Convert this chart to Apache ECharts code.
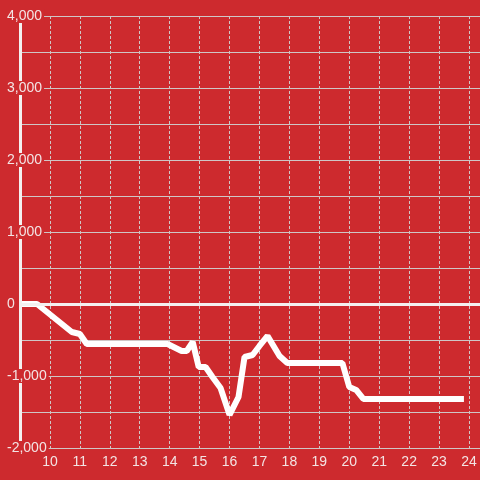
<!DOCTYPE html>
<html>
<head>
<meta charset="utf-8">
<script src="https://cdn.jsdelivr.net/npm/echarts@6/dist/echarts.min.js"></script>
<style>
  html, body { margin: 0; padding: 0; background: #CD2A2E; }
  #chart { width: 480px; height: 480px; }
</style>
</head>
<body>
<div id="chart"></div>
<script>
// hour of day vs running total
const times = [9.0, 9.57, 10.73, 11.0, 11.23, 13.93, 14.4, 14.57, 14.77, 14.97, 15.2, 15.43, 15.7, 16.0, 16.3, 16.5, 16.77, 17.0, 17.27, 17.67, 17.93, 19.77, 20.0, 20.23, 20.47, 23.83];
const values = [0, 0, -389, -417, -556, -556, -653, -653, -528, -875, -875, -1014, -1167, -1540, -1292, -736, -708, -583, -444, -722, -819, -819, -1153, -1194, -1319, -1319];
const yTicks = [-2000, -1000, 0, 1000, 2000, 3000, 4000];

const bg = "#CD2A2E";
const gridColor = "#CFC6C6";
const textColor = "#F3E4E4";
const font = "Liberation Sans, Arial, sans-serif";

const fmt = (v) => {
  const s = Math.abs(v).toString().replace(/\B(?=(\d{3})+(?!\d))/g, ",");
  return v < 0 ? "-" + s : s;
};

const chart = echarts.init(document.getElementById("chart"));

chart.setOption({
  backgroundColor: bg,
  animation: false,
  // right edge pushed 1px off canvas so the split line at max is hidden
  grid: { left: 20, right: -1, top: 16, bottom: 32, containLabel: false },
  xAxis: {
    type: "value",
    min: 9,
    max: 24.367,
    interval: 1,
    z: 0,
    axisLine: { show: true, lineStyle: { color: gridColor, width: 1 } },
    axisTick: { show: false },
    axisLabel: {
      color: textColor,
      fontSize: 14,
      fontFamily: font,
      margin: 7,
      showMinLabel: false,
      showMaxLabel: false,
    },
    splitLine: { show: true, lineStyle: { color: gridColor, type: [3, 2], width: 1 } },
  },
  yAxis: [
    {
      type: "value",
      min: yTicks[0],
      max: yTicks[yTicks.length - 1],
      interval: 500,
      z: 0,
      axisLine: { show: false },
      axisTick: { show: false },
      axisLabel: { show: false },
      splitLine: { show: true, lineStyle: { color: gridColor, width: 1 } },
    },
    {
      type: "value",
      min: yTicks[0],
      max: yTicks[yTicks.length - 1],
      interval: 1000,
      position: "left",
      z: 5,
      axisLine: { show: true, lineStyle: { color: "#F4F0F0", width: 3 } },
      axisTick: { show: false },
      splitLine: { show: false },
      axisLabel: {
        color: textColor,
        fontSize: 14,
        fontFamily: font,
        align: "left",
        margin: 14,
        backgroundColor: bg,
        padding: [0, 2, 0, 1],
        formatter: (v) => fmt(v),
      },
    },
  ],
  series: [
    {
      type: "line",
      yAxisIndex: 0,
      data: times.map((t, i) => [t, values[i]]),
      symbol: "none",
      lineStyle: { color: "#FFFFFF", width: 6 },
      markLine: {
        silent: true,
        symbol: "none",
        label: { show: false },
        lineStyle: { color: "#F4F0F0", width: 3, type: "solid" },
        data: [{ yAxis: 0 }],
      },
    },
  ],
});
</script>
</body>
</html>
